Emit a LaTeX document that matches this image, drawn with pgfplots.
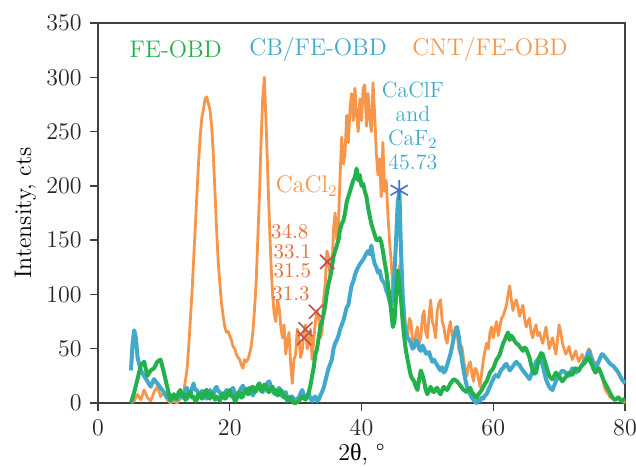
\documentclass[border=0pt]{standalone}
\usepackage{fontspec}
\usepackage{pgfplots}
\pgfplotsset{compat=1.18}
\newfontfamily\greekfont{Liberation Serif}
\definecolor{cfe}{HTML}{22B14C}
\definecolor{ccb}{HTML}{41AACB}
\definecolor{ccnt}{HTML}{F7964A}
\definecolor{cred}{HTML}{C0504D}
\definecolor{cnum}{HTML}{E4703C}
\definecolor{cstar}{HTML}{4472C4}
\definecolor{caxis}{HTML}{404040}

% CNT/FE-OBD
\pgfplotstableread{
x y
5.0 0
5.5 2
6.0 8
6.5 3
7.0 12
7.5 5
8.0 2
8.5 10
9.0 15
9.5 6
10.0 10
10.5 3
11.0 0
11.5 2
12.0 0
12.5 4
13.0 10
13.5 30
13.75 50
14.0 75
14.25 100
14.5 130
14.75 160
15.0 190
15.25 220
15.5 245
15.75 262
16.0 270
16.25 280
16.5 282
16.75 276
17.0 270
17.25 255
17.5 230
17.75 195
18.0 160
18.25 130
18.5 110
18.75 92
19.0 80
19.25 70
19.5 65
19.75 66
20.0 62
20.25 58
20.5 52
20.75 50
21.0 45
21.25 42
21.5 40
21.75 35
22.0 32
22.25 40
22.5 38
22.75 40
23.0 45
23.25 52
23.5 65
23.75 85
24.0 110
24.25 150
24.5 190
24.75 240
25.0 280
25.25 300
25.5 260
25.75 215
26.0 170
26.25 130
26.5 100
26.75 82
27.0 75
27.25 95
27.5 88
27.75 70
28.0 60
28.25 72
28.5 45
28.75 58
29.0 65
29.25 35
29.5 18
29.75 40
30.0 45
30.25 68
30.5 60
30.75 42
31.0 48
31.25 65
31.5 72
31.75 50
32.0 55
32.25 68
32.5 40
32.75 58
33.0 75
33.25 85
33.5 80
33.75 60
34.0 65
34.25 95
34.5 110
34.75 140
35.0 135
35.25 115
35.5 120
35.75 160
36.0 175
36.25 150
36.5 165
36.75 210
37.0 245
37.25 220
37.5 230
37.75 265
38.0 240
38.25 270
38.5 285
38.75 260
39.0 290
39.25 265
39.5 250
39.75 280
40.0 260
40.25 290
40.5 293
40.75 255
41.0 285
41.25 262
41.5 250
41.75 295
42.0 265
42.25 230
42.5 210
42.75 225
43.0 190
43.25 240
43.5 195
43.75 205
44.0 175
44.25 150
44.5 130
44.75 105
45.0 100
45.25 90
45.5 115
45.75 125
46.0 130
46.25 100
46.5 85
46.75 65
47.0 60
47.25 78
47.5 75
47.75 55
48.0 50
48.25 65
48.5 70
48.75 55
49.0 60
49.25 80
49.5 85
49.75 65
50.0 60
50.25 80
50.5 95
50.75 75
51.0 70
51.25 60
51.5 85
51.75 92
52.0 95
52.25 75
52.5 70
52.75 60
53.0 55
53.25 68
53.5 75
53.75 62
54.0 60
54.25 70
54.5 65
54.75 50
55.0 45
55.25 52
55.5 40
55.75 30
56.0 25
56.25 35
56.5 38
56.75 28
57.0 20
57.25 32
57.5 30
57.75 22
58.0 15
58.25 28
58.5 40
58.75 48
59.0 55
59.25 50
59.5 65
59.75 70
60.0 60
60.25 68
60.5 75
60.75 62
61.0 70
61.25 78
61.5 80
61.75 85
62.0 90
62.25 100
62.5 108
62.75 95
63.0 85
63.25 92
63.5 95
63.75 88
64.0 80
64.25 85
64.5 90
64.75 78
65.0 70
65.25 75
65.5 78
65.75 65
66.0 60
66.25 68
66.5 72
66.75 62
67.0 65
67.25 60
67.5 55
67.75 62
68.0 70
68.25 60
68.5 50
68.75 55
69.0 60
69.25 52
69.5 45
69.75 58
70.0 72
70.25 65
70.5 55
70.75 50
71.0 45
71.25 48
71.5 52
71.75 45
72.0 40
72.25 44
72.5 48
72.75 42
73.0 38
73.25 42
73.5 45
73.75 38
74.0 40
74.25 46
74.5 50
74.75 48
75.0 42
75.25 38
75.5 35
75.75 38
76.0 30
76.25 28
76.5 25
76.75 18
77.0 12
77.25 10
77.5 8
77.75 5
78.0 5
78.5 2
79.0 6
79.5 3
80.0 0
}\cnt

% CB/FE-OBD
\pgfplotstableread{
x y
5.0 30
5.25 55
5.5 67
5.75 60
6.0 42
6.5 30
7.0 25
7.5 20
8.0 15
8.5 22
9.0 18
9.5 14
10.0 10
10.25 7
10.5 5
10.75 9
11.0 2
11.25 5
11.5 8
11.75 4
12.0 3
12.25 7
12.5 10
12.75 5
13.0 6
13.25 11
13.5 14
13.75 9
14.0 8
14.25 13
14.5 18
14.75 12
15.0 12
15.25 8
15.5 6
15.75 11
16.0 10
16.25 6
16.5 4
16.75 9
17.0 12
17.25 7
17.5 8
17.75 13
18.0 15
18.25 11
18.5 10
18.75 6
19.0 5
19.25 9
19.5 12
19.75 7
20.0 8
20.25 12
20.5 14
20.75 9
21.0 6
21.25 9
21.5 11
21.75 14
22.0 16
22.25 12
22.5 9
22.75 13
23.0 14
23.25 10
23.5 7
23.75 10
24.0 12
24.25 16
24.5 18
24.75 13
25.0 10
25.25 13
25.5 15
25.75 19
26.0 20
26.25 15
26.5 12
26.75 9
27.0 8
27.25 12
27.5 14
27.75 9
28.0 6
28.25 9
28.5 10
28.75 5
29.0 3
29.25 6
29.5 6
29.75 3
30.0 2
30.25 4
30.5 5
30.75 9
31.0 12
31.25 7
31.5 4
31.75 7
32.0 8
32.25 4
32.5 2
32.75 5
33.0 6
33.25 2
33.5 3
33.75 7
34.0 10
34.25 14
34.5 20
34.75 26
35.0 32
35.25 36
35.5 40
35.75 50
36.0 55
36.25 58
36.5 62
36.75 68
37.0 72
37.25 76
37.5 82
37.75 88
38.0 90
38.25 100
38.5 108
38.75 112
39.0 118
39.25 122
39.5 125
39.75 128
40.0 130
40.25 132
40.5 135
40.75 138
41.0 140
41.25 137
41.5 145
41.75 135
42.0 128
42.25 125
42.5 120
42.75 122
43.0 115
43.25 112
43.5 110
43.75 104
44.0 100
44.25 94
44.5 90
44.75 98
45.0 120
45.25 150
45.5 185
45.75 195
46.0 140
46.25 100
46.5 75
46.75 65
47.0 60
47.25 58
47.5 55
47.75 50
48.0 52
48.25 58
48.5 56
48.75 50
49.0 48
49.25 53
49.5 50
49.75 46
50.0 45
50.25 47
50.5 42
50.75 38
51.0 40
51.25 37
51.5 35
51.75 32
52.0 30
52.25 33
52.5 28
52.75 30
53.0 35
53.25 40
53.5 45
53.75 52
54.0 60
54.25 66
54.5 70
54.75 62
55.0 50
55.25 40
55.5 30
55.75 22
56.0 15
56.25 12
56.5 8
56.75 5
57.0 3
57.25 1
57.5 0
57.75 3
58.0 2
58.25 5
58.5 4
58.75 7
59.0 8
59.25 12
59.5 15
59.75 19
60.0 22
60.25 25
60.5 26
60.75 24
61.0 28
61.25 31
61.5 32
61.75 35
62.0 36
62.25 33
62.5 30
62.75 32
63.0 34
63.25 36
63.5 38
63.75 36
64.0 35
64.25 32
64.5 30
64.75 28
65.0 26
65.25 24
65.5 22
65.75 26
66.0 30
66.25 34
66.5 38
66.75 40
67.0 42
67.25 38
67.5 35
67.75 28
68.0 22
68.25 18
68.5 15
68.75 13
69.0 12
69.25 16
69.5 20
69.75 23
70.0 26
70.25 28
70.5 30
70.75 29
71.0 28
71.25 26
71.5 25
71.75 29
72.0 32
72.25 30
72.5 28
72.75 29
73.0 30
73.25 33
73.5 35
73.75 38
74.0 40
74.25 44
74.5 48
74.75 44
75.0 40
75.25 36
75.5 33
75.75 35
76.0 38
76.25 42
76.5 45
76.75 44
77.0 42
77.25 40
77.5 38
77.75 36
78.0 35
78.25 34
78.5 32
78.75 30
79.0 28
79.25 25
79.5 22
79.75 20
80.0 18
}\cb

% FE-OBD
\pgfplotstableread{
x y
5.0 0
5.5 10
6.0 22
6.5 35
7.0 38
7.5 25
8.0 30
8.5 32
9.0 38
9.5 40
10.0 28
10.5 15
11.0 2
11.25 6
11.5 8
11.75 4
12.0 5
12.25 10
12.5 12
12.75 7
13.0 8
13.25 3
13.5 4
13.75 9
14.0 10
14.25 5
14.5 6
14.75 2
15.0 3
15.25 8
15.5 9
15.75 4
16.0 5
16.25 11
16.5 12
16.75 6
17.0 4
17.25 9
17.5 8
17.75 3
18.0 6
18.25 4
18.5 2
18.75 7
19.0 9
19.25 4
19.5 5
19.75 10
20.0 12
20.25 6
20.5 7
20.75 2
21.0 3
21.25 9
21.5 10
21.75 5
22.0 6
22.25 11
22.5 13
22.75 8
23.0 9
23.25 14
23.5 15
23.75 10
24.0 11
24.25 16
24.5 18
24.75 11
25.0 12
25.25 17
25.5 16
25.75 11
26.0 10
26.25 14
26.5 15
26.75 9
27.0 12
27.25 7
27.5 8
27.75 12
28.0 10
28.25 5
28.5 6
28.75 2
29.0 3
29.25 5
29.5 2
29.75 0
30.0 0
30.5 2
31.0 6
31.5 3
32.0 10
32.25 16
32.5 25
32.75 33
33.0 45
33.25 50
33.5 60
33.75 70
34.0 75
34.25 82
34.5 90
34.75 102
35.0 110
35.25 116
35.5 125
35.75 135
36.0 140
36.25 145
36.5 150
36.75 160
37.0 165
37.25 168
37.5 175
37.75 185
38.0 190
38.25 195
38.5 200
38.75 205
39.0 208
39.25 216
39.5 205
39.75 210
40.0 200
40.25 202
40.5 195
40.75 190
41.0 180
41.25 172
41.5 165
41.75 160
42.0 155
42.25 150
42.5 150
42.75 152
43.0 148
43.25 140
43.5 130
43.75 122
44.0 110
44.25 98
44.5 85
44.75 70
45.0 75
45.25 100
45.5 122
45.75 110
46.0 95
46.25 75
46.5 60
46.75 48
47.0 40
47.25 32
47.5 25
47.75 22
48.0 20
48.25 15
48.5 12
48.75 22
49.0 30
49.25 26
49.5 20
49.75 12
50.0 8
50.25 12
50.5 15
50.75 11
51.0 10
51.25 13
51.5 14
51.75 10
52.0 8
52.25 12
52.5 15
52.75 13
53.0 12
53.25 15
53.5 18
53.75 20
54.0 22
54.25 21
54.5 20
54.75 18
55.0 16
55.25 14
55.5 12
55.75 11
56.0 10
56.25 12
56.5 14
56.75 10
57.0 8
57.25 6
57.5 5
57.75 8
58.0 10
58.25 12
58.5 15
58.75 18
59.0 20
59.25 24
59.5 28
59.75 30
60.0 32
60.25 36
60.5 40
60.75 42
61.0 45
61.25 50
61.5 55
61.75 58
62.0 62
62.25 65
62.5 58
62.75 62
63.0 60
63.25 57
63.5 55
63.75 54
64.0 52
64.25 50
64.5 48
64.75 51
65.0 50
65.25 46
65.5 42
65.75 35
66.0 30
66.25 27
66.5 28
66.75 36
67.0 42
67.25 46
67.5 45
67.75 40
68.0 35
68.25 30
68.5 25
68.75 23
69.0 22
69.25 25
69.5 28
69.75 26
70.0 25
70.25 22
70.5 20
70.75 22
71.0 24
71.25 26
71.5 28
71.75 27
72.0 26
72.25 29
72.5 32
72.75 31
73.0 30
73.25 33
73.5 35
73.75 36
74.0 38
74.25 40
74.5 42
74.75 38
75.0 35
75.25 31
75.5 28
75.75 30
76.0 32
76.25 29
76.5 25
76.75 21
77.0 18
77.25 15
77.5 12
77.75 9
78.0 6
78.25 4
78.5 3
78.75 4
79.0 5
79.25 3
79.5 2
79.75 3
80.0 4
}\fe

\begin{document}
\fontsize{12}{14}\selectfont
\begin{tikzpicture}
\begin{axis}[
    scale only axis,
    width=263.5pt, height=190pt,
    xmin=0, xmax=80, ymin=0, ymax=350,
    xtick={0,20,40,60,80},
    ytick={0,50,...,350},
    tick align=outside,
    xtick pos=left, ytick pos=left,
    major tick length=4pt,
    axis line style={caxis, line width=0.8pt},
    every tick/.style={caxis, line width=0.7pt},
    tick label style={font=\fontsize{12}{14}\selectfont, text=black!85},
    /pgf/number format/assume math mode=true,
    xlabel={2{\greekfont θ}, °},
    ylabel={Intensity, cts},
    label style={font=\fontsize{12}{14}\selectfont},
    xlabel style={yshift=4.5pt},
    ylabel style={yshift=-3pt},
    clip=false,
]
\addplot[ccnt, line width=1.4pt, line join=round] table[x=x,y=y]{\cnt};
\addplot[ccb, line width=2pt, line join=round] table[x=x,y=y]{\cb};
\addplot[cfe, line width=2pt, line join=round] table[x=x,y=y]{\fe};
\addplot[cred, only marks, mark=x, mark size=5pt, mark options={line width=0.8pt}]
    coordinates {(31.3,60) (31.5,68) (33.1,84) (34.8,130)};
\addplot[cstar, only marks, mark=asterisk, mark size=5pt, mark options={line width=0.8pt}]
    coordinates {(45.73,196)};
\node[text=cfe] at (axis cs:11.8,326) {FE-OBD};
\node[text=ccb] at (axis cs:33.4,326) {CB/FE-OBD};
\node[text=ccnt] at (axis cs:59.5,326) {CNT/FE-OBD};
\node[text=ccnt] at (axis cs:31.7,200) {CaCl\textsubscript{2}};
\begin{scope}[every node/.style={text=cnum, inner sep=0pt, font=\fontsize{10.5}{12}\selectfont}]
\node at (axis cs:29.1,158) {34.8};
\node at (axis cs:29.5,139) {33.1};
\node at (axis cs:29.5,122) {31.5};
\node at (axis cs:29.3,101) {31.3};
\end{scope}
\node[text=ccb, align=center, inner sep=0pt, font=\fontsize{11}{12}\selectfont] at (axis cs:47.8,255)
    {CaClF\\ and\\ CaF\textsubscript{2}\\ 45.73};
\end{axis}
\pgfresetboundingbox
\path ([shift={(-49pt,-31.5pt)}]current axis.south west) rectangle ([shift={(5.5pt,11.5pt)}]current axis.north east);
\end{tikzpicture}
\end{document}
